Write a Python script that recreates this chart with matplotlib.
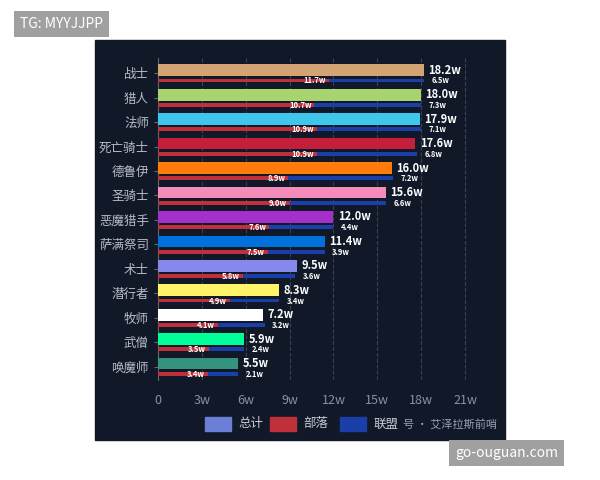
import matplotlib
matplotlib.use("Agg")
import matplotlib.pyplot as plt
from matplotlib.patches import Rectangle

plt.rcParams['font.family'] = ['Noto Sans CJK SC', 'DejaVu Sans']

classes = ["战士","猎人","法师","死亡骑士","德鲁伊","圣骑士","恶魔猎手","萨满祭司","术士","潜行者","牧师","武僧","唤魔师"]
total = [18.2,18.0,17.9,17.6,16.0,15.6,12.0,11.4,9.5,8.3,7.2,5.9,5.5]
horde = [11.7,10.7,10.9,10.9,8.9,9.0,7.6,7.5,5.8,4.9,4.1,3.5,3.4]
alliance = [6.5,7.3,7.1,6.8,7.2,6.6,4.4,3.9,3.6,3.4,3.2,2.4,2.1]
colors = ["#d4a373","#a8d46f","#3fc7eb","#c41e3a","#ff7c0a","#f48cba","#a330c9","#0070dd","#8788ee","#fff468","#ffffff","#00ff98","#33937f"]
xticks = [0,3,6,9,12,15,18,21]
xticklabels = ["0","3w","6w","9w","12w","15w","18w","21w"]

bg = "#111827"
fig = plt.figure(figsize=(6,4.8), dpi=100)
fig.patch.set_facecolor("white")
fig.add_artist(Rectangle((95/600, 40/480), 410/600, 400/480, transform=fig.transFigure, color=bg, zorder=0))

ax = fig.add_axes([158/600, 100/480, 310/600, 322/480])
ax.set_facecolor(bg)
n = len(classes)
y = list(range(n))
ax.barh([i-0.12 for i in y], total, height=0.48, color=colors, left=0, zorder=3)
ax.barh([i+0.3 for i in y], horde, height=0.16, color="#c0303a", zorder=3)
ax.barh([i+0.3 for i in y], alliance, left=horde, height=0.16, color="#1a3fa8", zorder=3)
for i in y:
    ax.text(total[i]+0.3, i-0.12, f"{total[i]:.1f}w", color="white", fontsize=8, fontweight="bold", va="center", ha="left")
    ax.text(horde[i]-0.2, i+0.32, f"{horde[i]:.1f}w", color="white", fontsize=5.5, fontweight="bold", va="center", ha="right", zorder=4)
    ax.text(horde[i]+alliance[i]+0.5, i+0.32, f"{alliance[i]:.1f}w", color="white", fontsize=5.5, fontweight="bold", va="center", ha="left")
ax.set_ylim(n-0.45, -0.62)
ax.set_xlim(0, 21.2)
ax.set_yticks(y)
ax.set_yticklabels(classes, color="#b8bcc8", fontsize=9)
ax.set_xticks(xticks)
ax.set_xticklabels(xticklabels, color="#8a90a0", fontsize=9)
ax.tick_params(axis="x", length=0, pad=10)
ax.tick_params(axis="y", length=3, color="#666")
ax.grid(axis="x", linestyle="--", color="#3a4050", linewidth=0.8, zorder=0)
for s in ["top","right","bottom"]:
    ax.spines[s].set_visible(False)
ax.spines["left"].set_color("#666")

# legend
lx = [205, 270, 340]
labels = ["总计","部落","联盟"]
lc = ["#6b7fd6","#c0303a","#1a3fa8"]
for x0, lab, c in zip(lx, labels, lc):
    fig.add_artist(Rectangle((x0/600, (480-431)/480), 26/600, 14/480, transform=fig.transFigure, color=c, zorder=5))
    fig.text((x0+33)/600, (480-424)/480, lab, color="#c8ccd8", fontsize=9, va="center", zorder=5)
fig.text(403/600, (480-424)/480, "号 · 艾泽拉斯前哨", color="#9aa0b0", fontsize=8, va="center")

fig.text(20/600, (480-24)/480, "TG: MYYJJPP", color="white", fontsize=10, va="center",
         bbox=dict(boxstyle="square,pad=0.45", fc="#a0a0a0", ec="none"))
fig.text(455/600, (480-453)/480, "go-ouguan.com", color="white", fontsize=10, va="center",
         bbox=dict(boxstyle="square,pad=0.45", fc="#a0a0a0", ec="none"))
fig.savefig("out.png", dpi=100, facecolor="white")
